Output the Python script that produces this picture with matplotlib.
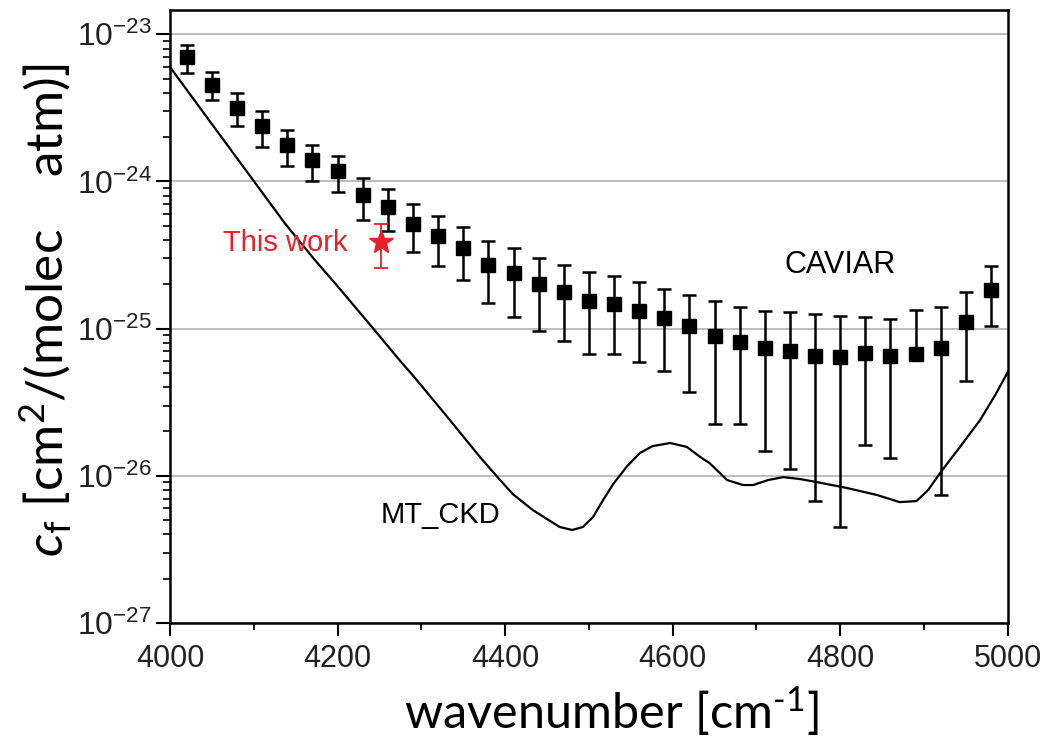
import matplotlib.pyplot as plt
import numpy as np
from matplotlib.ticker import LogLocator, MultipleLocator

plt.rcParams['font.family'] = ['Liberation Sans', 'DejaVu Sans']
plt.rcParams['mathtext.fontset'] = 'custom'
plt.rcParams['mathtext.rm'] = 'Lato'
plt.rcParams['mathtext.it'] = 'Lato:italic'
plt.rcParams['mathtext.default'] = 'regular'

# CAVIAR points (value, upper and lower end of the error bar)
caviar_wn = [4020, 4050, 4080, 4110, 4140, 4170, 4200, 4230, 4260, 4290, 4320,
             4350, 4380, 4410, 4440, 4470, 4500, 4530, 4560, 4590, 4620, 4650,
             4680, 4710, 4740, 4770, 4800, 4830, 4860, 4890, 4920, 4950, 4980]
caviar_cf = [7.0e-24, 4.56e-24, 3.17e-24, 2.37e-24, 1.76e-24, 1.39e-24, 1.18e-24,
             8.05e-25, 6.7e-25, 5.15e-25, 4.28e-25, 3.53e-25, 2.70e-25, 2.37e-25,
             2.0e-25, 1.77e-25, 1.54e-25, 1.48e-25, 1.32e-25, 1.18e-25, 1.04e-25,
             8.87e-26, 8.17e-26, 7.4e-26, 7.07e-26, 6.56e-26, 6.37e-26, 6.78e-26,
             6.5e-26, 6.67e-26, 7.4e-26, 1.11e-25, 1.84e-25]
caviar_hi = [8.5e-24, 5.58e-24, 3.98e-24, 2.99e-24, 2.23e-24, 1.78e-24, 1.48e-24,
             1.06e-24, 8.9e-25, 7.0e-25, 5.8e-25, 4.93e-25, 3.96e-25, 3.53e-25,
             3.02e-25, 2.70e-25, 2.43e-25, 2.29e-25, 2.07e-25, 1.85e-25, 1.70e-25,
             1.55e-25, 1.40e-25, 1.32e-25, 1.29e-25, 1.25e-25, 1.22e-25, 1.19e-25,
             1.16e-25, 1.33e-25, 1.40e-25, 1.77e-25, 2.66e-25]
caviar_lo = [5.45e-24, 3.56e-24, 2.37e-24, 1.71e-24, 1.27e-24, 1.01e-24, 8.5e-25,
             5.5e-25, 4.58e-25, 3.3e-25, 2.67e-25, 2.15e-25, 1.49e-25, 1.19e-25,
             9.6e-26, 8.2e-26, 6.7e-26, 6.7e-26, 5.94e-26, 5.14e-26, 3.70e-26,
             2.24e-26, 2.24e-26, 1.48e-26, 1.11e-26, 6.73e-27, 4.5e-27, 1.63e-26,
             1.33e-26, 6.67e-26, 7.4e-27, 4.41e-26, 1.04e-25]

# MT_CKD curve
ckd_wn = [4000, 4137, 4171, 4199, 4242, 4275, 4290, 4331, 4370, 4394, 4409,
          4418, 4433, 4450, 4465, 4480, 4493, 4505, 4517, 4529, 4545, 4561,
          4576, 4597, 4617, 4633, 4644, 4665, 4684, 4696, 4714, 4732, 4752,
          4772, 4808, 4844, 4871, 4891, 4905, 4919, 4943, 4967, 4985, 5000]
ckd_cf = [5.98e-24, 5.20e-25, 3.01e-25, 1.97e-25, 1.01e-25, 6.0e-26, 4.8e-26,
          2.51e-26, 1.34e-26, 9.35e-27, 7.52e-27, 6.84e-27, 5.85e-27, 5.08e-27,
          4.49e-27, 4.28e-27, 4.49e-27, 5.25e-27, 6.84e-27, 8.79e-27, 1.15e-26,
          1.43e-26, 1.59e-26, 1.67e-26, 1.57e-26, 1.34e-26, 1.22e-26, 9.35e-27,
          8.65e-27, 8.65e-27, 9.35e-27, 9.79e-27, 9.5e-27, 9.06e-27, 8.26e-27,
          7.40e-27, 6.62e-27, 6.73e-27, 8.0e-27, 1.04e-26, 1.57e-26, 2.39e-26,
          3.53e-26, 5.06e-26]

# this work
tw_wn = [4252]
tw_cf = [3.88e-25]
tw_hi = [5.18e-25]
tw_lo = [2.60e-25]

ytick_vals = [1e-27, 1e-26, 1e-25, 1e-24, 1e-23]

red = "#e8202a"

fig = plt.figure(figsize=(10.63, 7.46), dpi=100)
ax = fig.add_axes([0.160, 0.165, 0.788, 0.822])

ax.set_yscale("log")
ax.set_xlim(4000, 5000)
ax.set_ylim(1e-27, 1.47e-23)

ax.grid(True, axis="y", which="major", color="#b8b8b8", lw=1.3)
ax.set_axisbelow(True)

ax.plot(ckd_wn, ckd_cf, color="black", lw=1.6)

c = np.array(caviar_cf)
yerr = [c - np.array(caviar_lo), np.array(caviar_hi) - c]
ax.errorbar(caviar_wn, caviar_cf, yerr=yerr, fmt="s", color="black", ms=10,
            elinewidth=1.8, capsize=5, capthick=1.8)

t = np.array(tw_cf)
ax.errorbar(tw_wn, tw_cf, yerr=[t - np.array(tw_lo), np.array(tw_hi) - t],
            fmt="*", color=red, ms=18, elinewidth=1.3, capsize=5, capthick=1.3)

ax.text(4137, 3.8e-25, "This work", color=red, fontsize=21, ha="center", va="center")
ax.text(4800, 2.7e-25, "CAVIAR", color="black", fontsize=22, ha="center", va="center")
ax.text(4323, 5.4e-27, "MT_CKD", color="black", fontsize=21, ha="center", va="center")

ax.xaxis.set_major_locator(MultipleLocator(200))
ax.xaxis.set_minor_locator(MultipleLocator(100))
ax.set_yticks(ytick_vals)
ax.yaxis.set_minor_locator(LogLocator(base=10, subs=np.arange(2, 10), numticks=20))

ax.tick_params(axis="x", which="major", direction="out", length=9, width=1.5,
               labelsize=22, pad=6)
ax.tick_params(axis="x", which="minor", direction="out", length=5, width=1.3)
ax.tick_params(axis="y", which="major", direction="out", length=10, width=1.5,
               labelsize=23, pad=3)
ax.tick_params(axis="y", which="minor", direction="out", length=5, width=1.2)
ax.tick_params(top=False, right=False, which="both")
for s in ax.spines.values():
    s.set_linewidth(1.8)
for lab in ax.get_xticklabels() + ax.get_yticklabels():
    lab.set_color("#222222")

ax.set_xlabel(r"wavenumber [cm$^{\text{-}1}$]", family="Lato", fontsize=35)
ax.xaxis.set_label_coords(0.527, -0.1)
ax.set_ylabel(r"$\mathit{c}_{\mathrm{f}}$ [cm$^2$/(molec    atm)]", family="Lato", fontsize=37)
ax.yaxis.set_label_coords(-0.115, 0.51)

fig.savefig("out.png", dpi=100)
